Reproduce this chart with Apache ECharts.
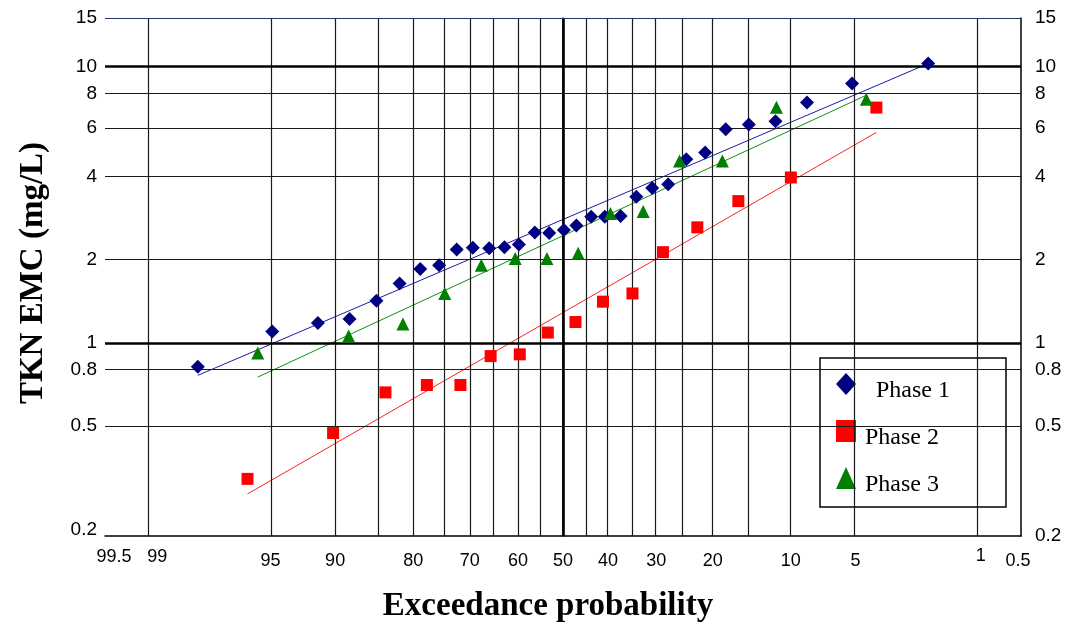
<!DOCTYPE html>
<html>
<head>
<meta charset="utf-8">
<script src="https://cdn.jsdelivr.net/npm/echarts@6/dist/echarts.min.js"></script>
<style>
  html, body { margin: 0; padding: 0; background: #fff; }
  #chart { width: 1068px; height: 624px; }
</style>
</head>
<body>
<div id="chart"></div>
<script>
// ---- data -------------------------------------------------------------
const exceedTicks = [99.5, 99, 95, 90, 80, 70, 60, 50, 40, 30, 20, 10, 5, 1, 0.5];
const exceedGrid = [99, 95, 90, 85, 80, 75, 70, 65, 60, 55, 45, 40, 35, 30, 25, 20, 15, 10, 5, 1];
const exceedGridMajor = [50];
const tknTicks = [0.2, 0.5, 0.8, 1, 2, 4, 6, 8, 10, 15];
const tknGrid = [0.5, 0.8, 2, 4, 6, 8];
const tknGridMajor = [1, 10];

const seriesNames = ['Phase 1', 'Phase 2', 'Phase 3'];

const phase1Exceed = [98.0, 94.9, 91.6, 88.5, 85.3, 82.1, 78.9, 75.7, 72.5, 69.4, 66.1, 62.9, 59.8, 56.3, 53.1, 49.8,
  47.0, 43.7, 40.7, 37.3, 34.0, 30.8, 27.7, 24.4, 21.2, 18.0, 14.8, 11.6, 8.5, 5.2, 2.0];
const phase1TKN = [0.82, 1.10, 1.18, 1.22, 1.42, 1.64, 1.85, 1.91, 2.18, 2.21, 2.20, 2.22, 2.27, 2.51, 2.50, 2.56,
  2.66, 2.86, 2.86, 2.88, 3.38, 3.64, 3.75, 4.62, 4.89, 5.94, 6.17, 6.35, 7.42, 8.69, 10.26];

const phase2Exceed = [96.2, 90.2, 84.1, 77.8, 71.8, 65.8, 59.6, 53.4, 47.2, 41.1, 34.8, 28.7, 22.5, 16.2, 10.0, 3.9];
const phase2TKN = [0.322, 0.472, 0.662, 0.704, 0.704, 0.896, 0.909, 1.09, 1.19, 1.41, 1.51, 2.13, 2.62, 3.26, 3.97, 7.11];

const phase3Exceed = [95.7, 88.6, 81.6, 74.7, 67.7, 60.6, 53.6, 46.6, 39.5, 32.6, 25.6, 18.5, 11.5, 4.4];
const phase3TKN = [0.919, 1.06, 1.17, 1.51, 1.91, 2.02, 2.02, 2.11, 2.94, 2.99, 4.55, 4.55, 7.13, 7.62];

// fitted lognormal lines (end points)
const fit1Exceed = [98.0, 2.0];
const fit1TKN = [0.763, 10.26];
const fit2Exceed = [96.2, 3.9];
const fit2TKN = [0.284, 5.78];
const fit3Exceed = [95.7, 4.4];
const fit3TKN = [0.752, 7.88];

// ---- normal probability scale -----------------------------------------
// inverse standard normal CDF (Acklam's rational approximation)
function normInv(p) {
  const a = [-3.969683028665376e+01, 2.209460984245205e+02, -2.759285104469687e+02,
             1.383577518672690e+02, -3.066479806614716e+01, 2.506628277459239e+00];
  const b = [-5.447609879822406e+01, 1.615858368580409e+02, -1.556989798598866e+02,
             6.680131188771972e+01, -1.328068155288572e+01];
  const c = [-7.784894002430293e-03, -3.223964580411365e-01, -2.400758277161838e+00,
             -2.549732539343734e+00, 4.374664141464968e+00, 2.938163982698783e+00];
  const d = [7.784695709041462e-03, 3.224671290700398e-01, 2.445134137142996e+00,
             3.754408661907416e+00];
  const pl = 0.02425, ph = 1 - pl;
  let q, r;
  if (p < pl) {
    q = Math.sqrt(-2 * Math.log(p));
    return (((((c[0]*q+c[1])*q+c[2])*q+c[3])*q+c[4])*q+c[5]) / ((((d[0]*q+d[1])*q+d[2])*q+d[3])*q+1);
  }
  if (p <= ph) {
    q = p - 0.5; r = q * q;
    return (((((a[0]*r+a[1])*r+a[2])*r+a[3])*r+a[4])*r+a[5])*q / (((((b[0]*r+b[1])*r+b[2])*r+b[3])*r+b[4])*r+1);
  }
  q = Math.sqrt(-2 * Math.log(1 - p));
  return -(((((c[0]*q+c[1])*q+c[2])*q+c[3])*q+c[4])*q+c[5]) / ((((d[0]*q+d[1])*q+d[2])*q+d[3])*q+1);
}
// exceedance probability (%) -> normal score used on the x axis
const pos = pe => normInv(1 - pe / 100);
const pairs = (xs, ys) => xs.map((x, i) => [pos(x), ys[i]]);

const X_MIN = pos(99.5), X_MAX = pos(0.5);

// label tweaks for a few crowded tick labels
const labelStyle = { 99.5: 'a', 99: 'b', 1: 'c', 0.5: 'd' };
function xLabel(v) {
  let best = exceedTicks[0], bd = Infinity;
  exceedTicks.forEach(p => { const dd = Math.abs(pos(p) - v); if (dd < bd) { bd = dd; best = p; } });
  const key = labelStyle[best] || 'n';
  return '{' + key + '|' + best + '}';
}
const tickFont = { fontFamily: 'Liberation Sans, Arial, sans-serif', fontSize: 18, color: '#000' };
const serif = 'Liberation Serif, Times New Roman, serif';

const thin = { color: '#1a1a1a', width: 1.2, type: 'solid' };
const thick = { color: '#000', width: 2.6, type: 'solid' };

const gridLines = [
  ...exceedGrid.map(p => ({ xAxis: pos(p), lineStyle: thin })),
  ...exceedGridMajor.map(p => ({ xAxis: pos(p), lineStyle: thick })),
  ...tknGrid.map(v => ({ yAxis: v, lineStyle: thin })),
  ...tknGridMajor.map(v => ({ yAxis: v, lineStyle: thick })),
  { yAxis: 15, lineStyle: { color: '#1f3864', width: 1.2, type: 'solid' } }
];

const yAxisBase = {
  type: 'log', logBase: 10, min: 0.2, max: 15,
  axisLine: { show: true, lineStyle: { color: '#000', width: 1.5 } },
  axisTick: { show: false },
  splitLine: { show: false },
  minorSplitLine: { show: false }
};

const chart = echarts.init(document.getElementById('chart'), null, { renderer: 'canvas' });
chart.setOption({
  animation: false,
  backgroundColor: '#fff',
  grid: { left: 105, right: 47, top: 18, bottom: 88, containLabel: false },
  xAxis: {
    type: 'value', min: X_MIN, max: X_MAX,
    axisLine: { show: true, onZero: false, lineStyle: { color: '#000', width: 1.5 } },
    axisTick: { show: false },
    splitLine: { show: false },
    axisLabel: {
      customValues: exceedTicks.map(pos),
      margin: 25,
      verticalAlign: 'middle',
      formatter: xLabel,
      rich: {
        n: { ...tickFont },
        a: { ...tickFont, padding: [0, 0, 8, 18] },
        b: { ...tickFont, padding: [0, 0, 8, 16] },
        c: { ...tickFont, padding: [0, 0, 10, 8] },
        d: { ...tickFont, padding: [0, 6, 0, 0] }
      }
    }
  },
  yAxis: [
    { ...yAxisBase, position: 'left',
      axisLabel: { ...tickFont, fontSize: 19, customValues: tknTicks, margin: 8,
        formatter: v => (Math.abs(v - 0.2) < 1e-9 ? '{u|0.2}' : String(+v.toPrecision(3))),
        rich: { u: { ...tickFont, fontSize: 19, padding: [0, 0, 12, 0] } } } },
    { ...yAxisBase, position: 'right',
      axisLabel: { ...tickFont, fontSize: 19, customValues: tknTicks, margin: 14,
        formatter: v => String(+v.toPrecision(3)) } }
  ],
  legend: {
    data: [
      { name: seriesNames[0], icon: 'diamond' },
      { name: seriesNames[1], icon: 'rect' },
      { name: seriesNames[2], icon: 'triangle' }
    ],
    orient: 'vertical',
    left: 820, top: 358,
    padding: [15, 56, 10, 16],
    itemWidth: 20, itemHeight: 22,
    itemGap: 17,
    backgroundColor: '#fff',
    borderColor: '#000', borderWidth: 1.5,
    formatter: name => (name === seriesNames[0] ? '{p|' + name + '}' : '{q|' + name + '}'),
    textStyle: {
      rich: {
        p: { fontFamily: serif, fontSize: 24, color: '#000', padding: [14, 0, 0, 15] },
        q: { fontFamily: serif, fontSize: 24, color: '#000', padding: [14, 0, 0, 4] }
      }
    },
    selectedMode: false
  },
  graphic: [
    { type: 'text', x: 548, y: 606,
      style: { text: 'Exceedance probability', align: 'center', verticalAlign: 'middle',
        font: 'bold 33px "Liberation Serif", "Times New Roman", serif', fill: '#000' } },
    { type: 'text', x: 33, y: 273, rotation: Math.PI / 2,
      style: { text: 'TKN EMC (mg/L)', align: 'center', verticalAlign: 'middle',
        font: 'bold 33px "Liberation Serif", "Times New Roman", serif', fill: '#000' } }
  ],
  series: [
    { name: 'grid', type: 'line', data: [], z: 1, silent: true,
      markLine: { silent: true, symbol: ['none', 'none'], label: { show: false },
        emphasis: { disabled: true }, animation: false, data: gridLines } },
    { name: 'fit1', type: 'line', data: pairs(fit1Exceed, fit1TKN), showSymbol: false, z: 3, silent: true,
      lineStyle: { color: '#1c1ca0', width: 1 } },
    { name: 'fit3', type: 'line', data: pairs(fit3Exceed, fit3TKN), showSymbol: false, z: 3, silent: true,
      lineStyle: { color: '#109010', width: 1 } },
    { name: 'fit2', type: 'line', data: pairs(fit2Exceed, fit2TKN), showSymbol: false, z: 3, silent: true,
      lineStyle: { color: '#ff2020', width: 1 } },
    { name: seriesNames[0], type: 'scatter', symbol: 'diamond', symbolSize: 14, z: 5,
      itemStyle: { color: '#000080', opacity: 1 }, data: pairs(phase1Exceed, phase1TKN) },
    { name: seriesNames[1], type: 'scatter', symbol: 'rect', symbolSize: 12, z: 5,
      itemStyle: { color: '#ff0000', opacity: 1 }, data: pairs(phase2Exceed, phase2TKN) },
    { name: seriesNames[2], type: 'scatter', symbol: 'triangle', symbolSize: [13, 13], z: 6,
      itemStyle: { color: '#008000', opacity: 1 }, data: pairs(phase3Exceed, phase3TKN) }
  ]
});
</script>
</body>
</html>
